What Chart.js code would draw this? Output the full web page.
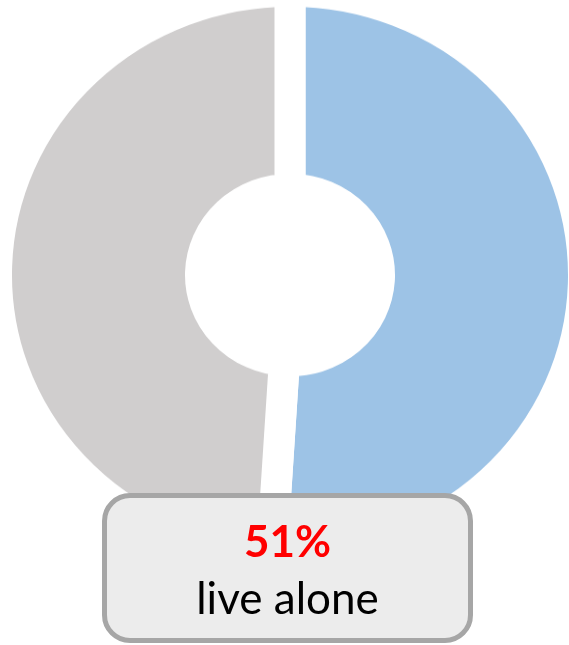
<!DOCTYPE html>
<html>
<head>
<meta charset="utf-8">
<script src="https://cdn.jsdelivr.net/npm/chart.js@4/dist/chart.umd.min.js"></script>
<style>
  html, body { margin: 0; padding: 0; width: 569px; height: 645px; overflow: hidden; background: #ffffff; }
  #wrap { position: absolute; left: -10.5px; top: -25px; width: 600px; height: 600px; transform: scaleY(0.965); transform-origin: 50% 50%; }
  #box { position: absolute; left: 102px; top: 493px; width: 371px; height: 150px; box-sizing: border-box;
         border: 5px solid #a6a6a6; border-radius: 28px; background: #ececec; }
  #label { position: absolute; left: 102px; width: 371px; top: 511.5px; text-align: center;
           font-family: Lato, "Open Sans", sans-serif; font-size: 44px; line-height: 57px; color: #000; }
  #pct { color: #ff0000; font-weight: bold; }
</style>
</head>
<body>
<div id="wrap"><canvas id="c" width="600" height="600"></canvas></div>
<div id="box"></div>
<div id="label"><div id="pct"></div><div id="cap"></div></div>
<script>
const categories = ['Live alone', 'Live with others'];
const shares = [51, 49];
const calloutValue = '51%';
const calloutText = 'live alone';

document.getElementById('pct').textContent = calloutValue;
document.getElementById('cap').textContent = calloutText;

new Chart(document.getElementById('c'), {
  type: 'doughnut',
  data: {
    labels: categories,
    datasets: [{
      data: shares,
      backgroundColor: ['#9dc3e6', '#d0cece'],
      hoverBackgroundColor: ['#9dc3e6', '#d0cece'],
      borderColor: '#ffffff',
      hoverBorderColor: '#ffffff',
      borderWidth: 31,
      hoverBorderWidth: 31,
      borderAlign: 'center',
      hoverOffset: 0
    }]
  },
  options: {
    responsive: false,
    animation: false,
    radius: 293.5,
    cutout: '30.5%',
    layout: { padding: 0 },
    events: [],
    plugins: {
      legend: { display: false },
      tooltip: { enabled: false },
      title: { display: false }
    }
  }
});
</script>
</body>
</html>
